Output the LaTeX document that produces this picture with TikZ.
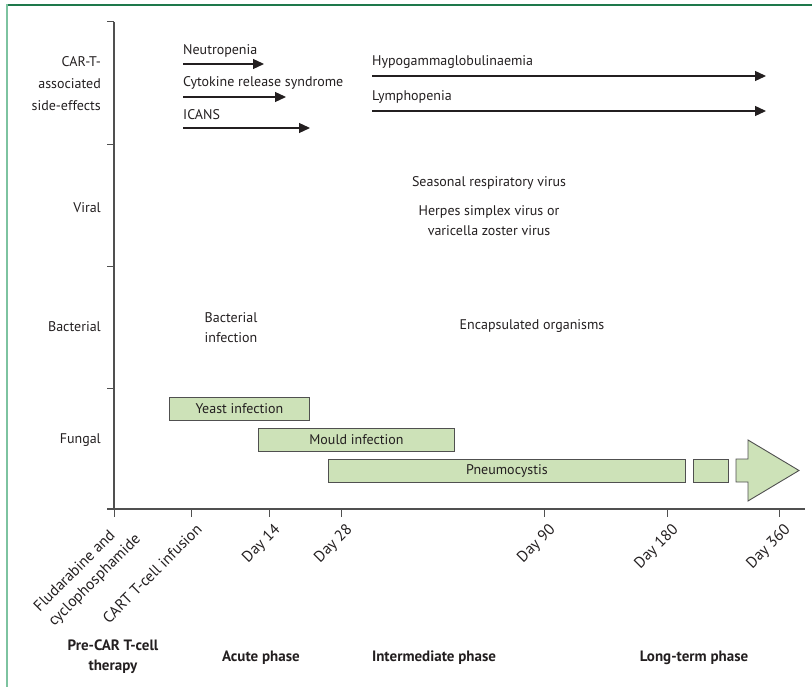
\documentclass[tikz,border=0pt]{standalone}
\usepackage{fontspec}
\setmainfont{PT Sans}
\usetikzlibrary{arrows.meta}
\definecolor{ink}{RGB}{35,31,32}
\definecolor{barfill}{RGB}{205,226,184}
\definecolor{framedark}{RGB}{30,120,75}
\definecolor{framelight}{RGB}{125,195,160}
\definecolor{axisgray}{RGB}{80,80,80}
\begin{document}
\begin{tikzpicture}[x=1pt,y=-1pt,
 every node/.style={font=\fontsize{14}{20}\selectfont, text=ink, inner sep=0pt},
 lbl/.style={anchor=base west},
 rowlbl/.style={align=right, anchor=east},
 sidearrow/.style={draw=ink, line width=1.3pt, -{Triangle[length=11pt,width=10pt]}},
 bar/.style={draw=axisgray, fill=barfill, line width=0.9pt, minimum height=23pt, anchor=north west},
 tick/.style={draw=axisgray, line width=1pt},
 axis/.style={draw=axisgray, line width=1.2pt},
 daylbl/.style={rotate=45, anchor=north east, inner sep=1pt, font=\fontsize{15.5}{20.5}\selectfont},
 phase/.style={font=\bfseries\fontsize{15}{20}\selectfont, align=center}
]
\useasboundingbox (0,0) rectangle (812,687);
% frame
\coordinate (ftl) at (7,5);
\coordinate (ftr) at (812,5);
\coordinate (fbl) at (7,687);
\draw[framedark, line width=1.5pt] (ftl) -- (ftr);
\draw[framelight, line width=2.5pt] ([yshift=0.75pt]ftl) -- (fbl);
% axes
\coordinate (ytop) at (114,22);
\coordinate (origin) at (114,509);
\coordinate (xstart) at (107,509);
\coordinate (xend) at (805,509);
\draw[axis] (ytop) -- (origin);
\draw[axis] (xstart) -- (xend);
\foreach \y in {22,145,267,388} \draw[tick] (107,\y) -- (114,\y);
\foreach \x in {114,191,269,341,544,667,779} \draw[tick] (\x,509) -- (\x,517);
% row labels
\node[rowlbl, font=\fontsize{14}{22}\selectfont] (rcar) at (101,84) {CAR-T-\\associated\\side-effects};
\node[rowlbl] (rvir) at (101,208) {Viral};
\node[rowlbl] (rbac) at (101,327) {Bacterial};
\node[rowlbl] (rfun) at (101,440) {Fungal};
% side effects
\node[lbl] (neut) at (183,55) {Neutropenia};
\coordinate (neutS) at (183,64); \coordinate (neutE) at (264,64);
\draw[sidearrow] (neutS) -- (neutE);
\node[lbl] (crs) at (183,87) {Cytokine release syndrome};
\coordinate (crsS) at (183,97); \coordinate (crsE) at (286,97);
\draw[sidearrow] (crsS) -- (crsE);
\node[lbl] (icans) at (183,120) {ICANS};
\coordinate (icansS) at (183,128); \coordinate (icansE) at (310,128);
\draw[sidearrow] (icansS) -- (icansE);
\node[lbl] (hypo) at (372,66) {Hypogammaglobulinaemia};
\coordinate (hypoS) at (372,76); \coordinate (hypoE) at (766,76);
\draw[sidearrow] (hypoS) -- (hypoE);
\node[lbl] (lymph) at (372,101) {Lymphopenia};
\coordinate (lymphS) at (372,111); \coordinate (lymphE) at (766,111);
\draw[sidearrow] (lymphS) -- (lymphE);
% viral / bacterial
\node (srv) at (489,183) {Seasonal respiratory virus};
\node[align=center] (hsv) at (489,221) {Herpes simplex virus or\\varicella zoster virus};
\node[align=center] (bact) at (231,328) {Bacterial\\infection};
\node (encap) at (532,326) {Encapsulated organisms};
% fungal bars
\node[bar, minimum width=140pt] (yeast) at (169,397) {Yeast infection};
\node[bar, minimum width=196pt] (mould) at (258,428) {Mould infection};
\node[bar, minimum width=357pt] (pneumo) at (328,459) {Pneumocystis};
\node[bar, minimum width=35pt] (pbox) at (693,459) {};
\draw[bar] (736,459) -- (748,459) -- (748,440) -- (799,470.5) -- (748,501) -- (748,482) -- (736,482) -- cycle;
% day labels
\node[daylbl, align=left] (flu) at (119,516) {Fludarabine and\\cyclophosphamide};
\node[daylbl] (cart) at (195,521) {CART T-cell infusion};
\node[daylbl] (d14) at (273,521) {Day 14};
\node[daylbl] (d28) at (345,521) {Day 28};
\node[daylbl] (d90) at (548,521) {Day 90};
\node[daylbl] (d180) at (671,521) {Day 180};
\node[daylbl] (d360) at (783,521) {Day 360};
% phases
\node[phase] (pre) at (113,657) {Pre-CAR T-cell\\therapy};
\node[phase] (acute) at (261,658) {Acute phase};
\node[phase] (inter) at (434,658) {Intermediate phase};
\node[phase] (long) at (694,658) {Long-term phase};
\end{tikzpicture}
\end{document}
